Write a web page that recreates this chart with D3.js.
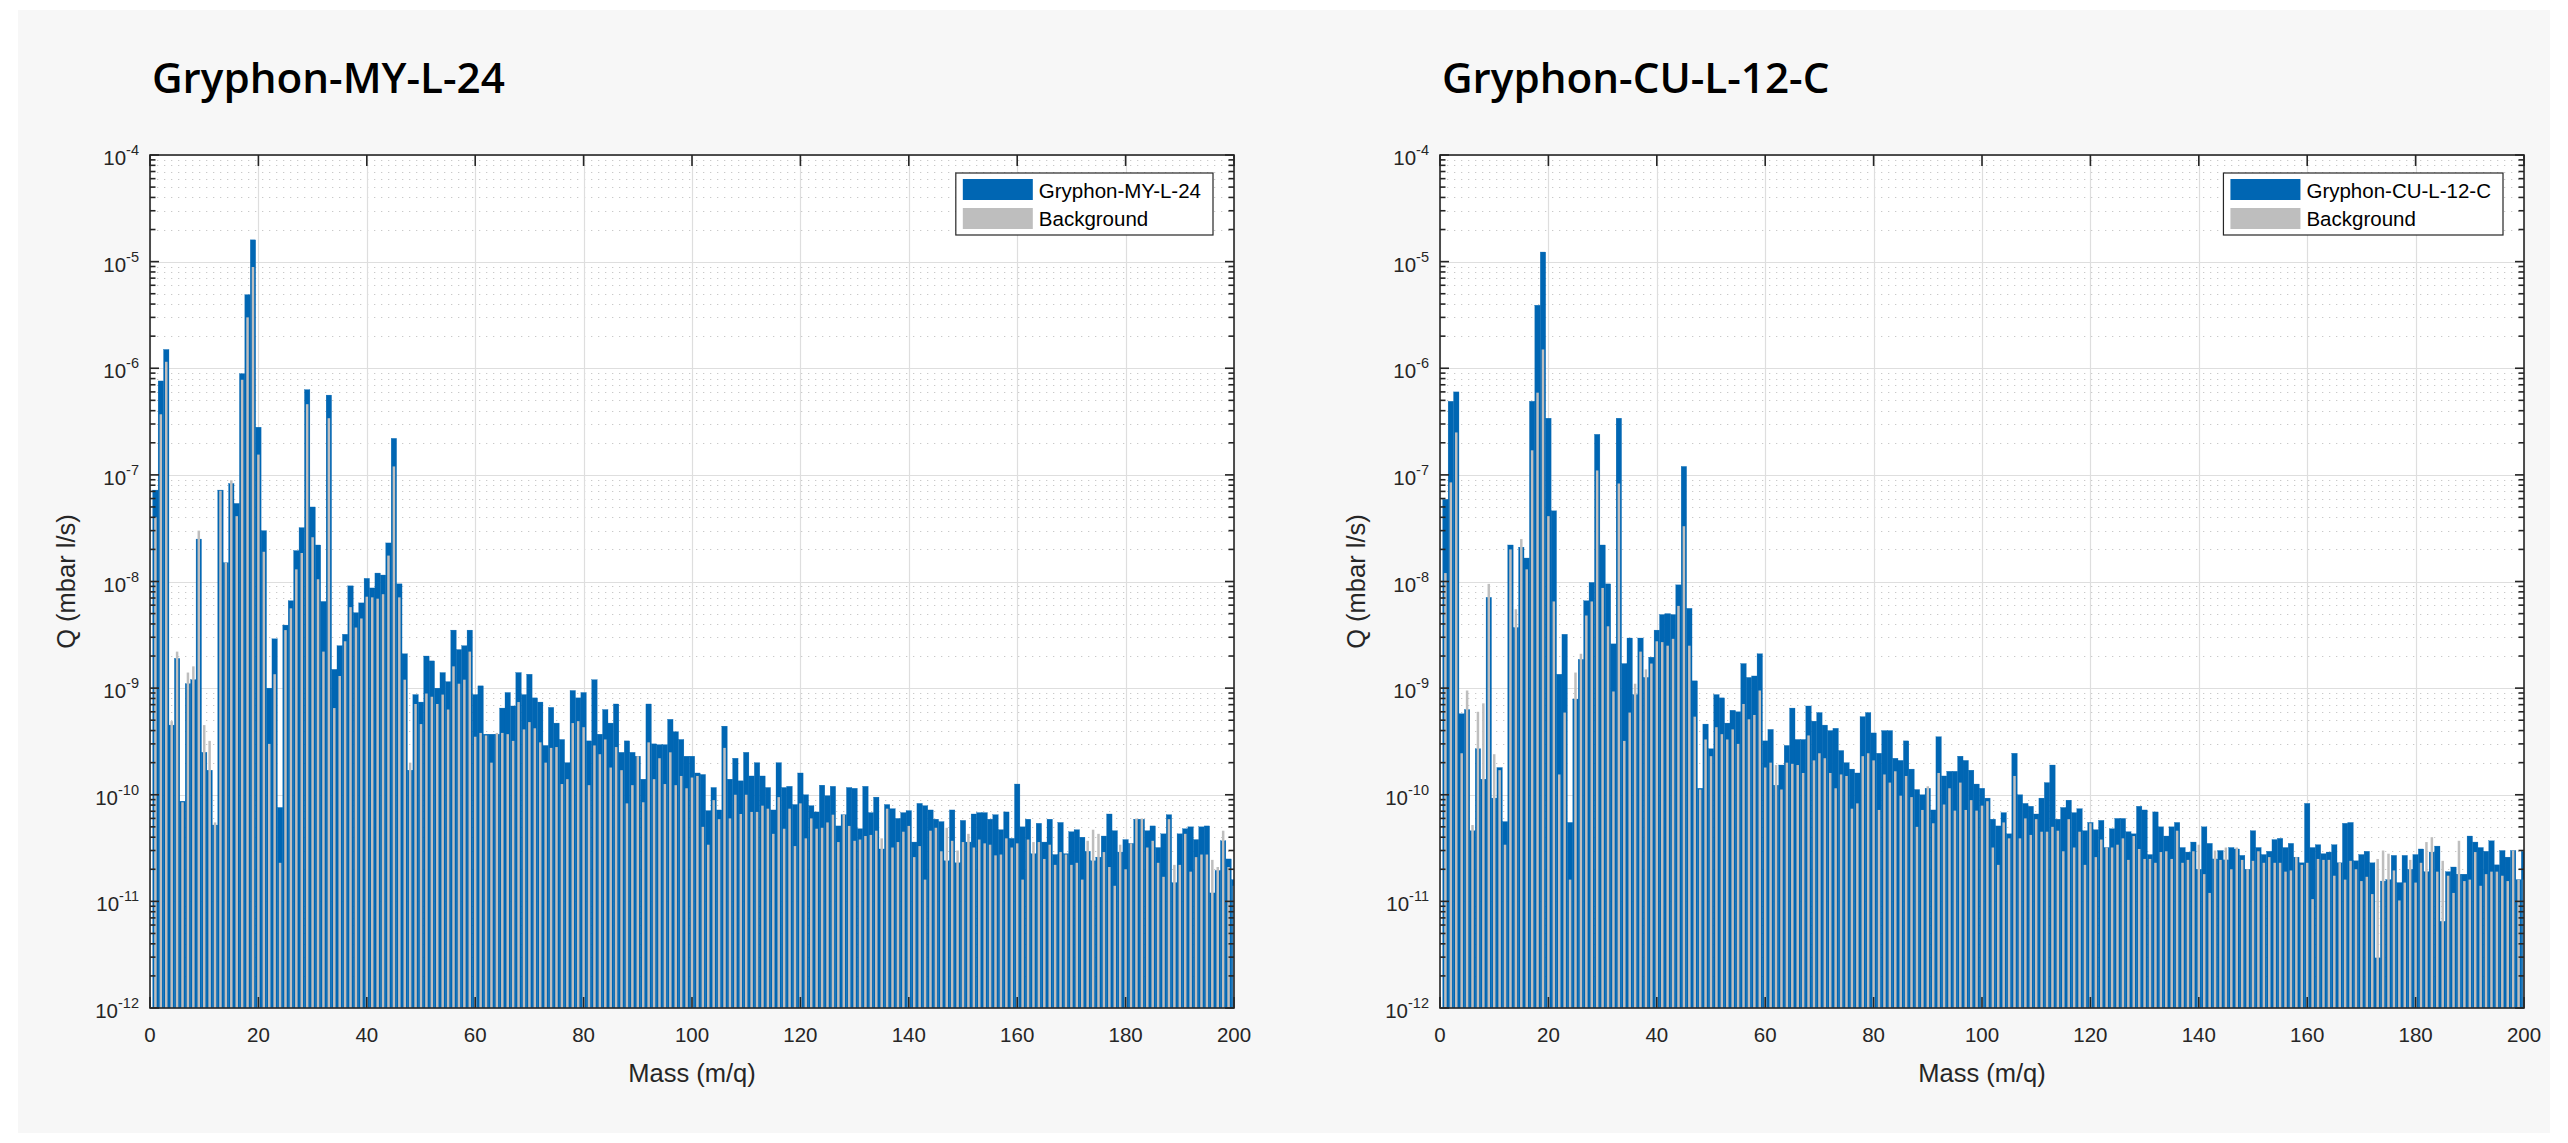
<!DOCTYPE html>
<html>
<head>
<meta charset="utf-8">
<script src="https://cdn.jsdelivr.net/npm/d3@7"></script>
<style>
  html, body { margin: 0; padding: 0; background: #ffffff; }
  svg { display: block; }
</style>
</head>
<body>
<svg id="chart" width="2568" height="1143"></svg>
<script>
// ---------------- DATA ----------------
const titles = ["Gryphon-MY-L-24", "Gryphon-CU-L-12-C"];
const seriesNames = ["Background"];
const xTickValues = [0, 20, 40, 60, 80, 100, 120, 140, 160, 180, 200];
const yTickExponents = [-12, -11, -10, -9, -8, -7, -6, -5, -4];
const xLabel = "Mass (m/q)";
const yLabel = "Q (mbar l/s)";

// masses 1..200
const masses = d3.range(1, 201);

const leftSample = [
7.2e-8, 7.6e-7, 1.5e-6, 4.5e-10, 1.9e-9, 8.7e-11, 1.1e-9, 1.2e-9, 2.5e-8, 2.5e-10,
1.7e-10, 5.2e-11, 7.2e-8, 1.5e-8, 8.3e-8, 5.4e-8, 8.9e-7, 4.9e-6, 1.6e-5, 2.8e-7,
3.0e-8, 1.0e-9, 2.9e-9, 7.6e-11, 3.9e-9, 6.6e-9, 1.95e-8, 3.2e-8, 6.3e-7, 5.0e-8,
2.2e-8, 6.5e-9, 5.6e-7, 1.5e-9, 2.5e-9, 3.2e-9, 9.1e-9, 5.1e-9, 6.3e-9, 1.07e-8,
8.7e-9, 1.2e-8, 1.15e-8, 2.3e-8, 2.2e-7, 9.5e-9, 2.1e-9, 1.7e-10, 8.7e-10, 7.4e-10,
2.0e-9, 1.8e-9, 1.0e-9, 1.4e-9, 1.15e-9, 3.5e-9, 2.3e-9, 2.5e-9, 3.5e-9, 8.7e-10,
1.05e-9, 3.7e-10, 3.7e-10, 3.7e-10, 6.5e-10, 9.1e-10, 6.8e-10, 1.4e-9, 8.7e-10, 1.35e-9,
8.1e-10, 7.4e-10, 2.9e-10, 6.6e-10, 4.7e-10, 3.3e-10, 2.0e-10, 9.5e-10, 8.1e-10, 9.1e-10,
3.2e-10, 1.2e-9, 3.7e-10, 6.3e-10, 4.7e-10, 7.1e-10, 2.5e-10, 3.2e-10, 2.5e-10, 2.3e-10,
1.4e-10, 7.1e-10, 3.0e-10, 2.95e-10, 2.95e-10, 5.1e-10, 3.9e-10, 3.3e-10, 2.3e-10, 2.3e-10,
1.6e-10, 1.55e-10, 7.1e-11, 1.17e-10, 7.2e-11, 4.4e-10, 1.4e-10, 2.2e-10, 1.35e-10, 2.5e-10,
1.5e-10, 2.0e-10, 1.5e-10, 1.17e-10, 7.2e-11, 2.0e-10, 1.17e-10, 1.2e-10, 8.1e-11, 1.6e-10,
1.0e-10, 7.9e-11, 6.9e-11, 1.23e-10, 9.8e-11, 1.2e-10, 5.1e-11, 6.5e-11, 1.17e-10, 1.15e-10,
4.8e-11, 1.2e-10, 6.8e-11, 9.5e-11, 3.1e-11, 8.1e-11, 7.4e-11, 6.0e-11, 6.8e-11, 7.1e-11,
3.6e-11, 8.3e-11, 7.9e-11, 7.2e-11, 5.9e-11, 5.6e-11, 2.4e-11, 7.2e-11, 2.3e-11, 5.75e-11,
3.6e-11, 6.6e-11, 6.8e-11, 6.8e-11, 5.9e-11, 6.5e-11, 4.7e-11, 6.9e-11, 3.9e-11, 1.26e-10,
5.0e-11, 5.9e-11, 2.8e-11, 5.4e-11, 3.6e-11, 5.9e-11, 2.75e-11, 5.5e-11, 2.8e-11, 4.5e-11,
4.7e-11, 4.0e-11, 2.95e-11, 2.4e-11, 2.6e-11, 4.1e-11, 6.6e-11, 4.6e-11, 2.9e-11, 3.8e-11,
3.5e-11, 5.9e-11, 5.9e-11, 4.6e-11, 5.1e-11, 3.2e-11, 4.3e-11, 6.5e-11, 1.5e-11, 4.3e-11,
4.8e-11, 5.0e-11, 3.8e-11, 5.0e-11, 5.1e-11, 1.2e-11, 1.95e-11, 3.7e-11, 2.5e-11, 1.6e-11
];

const leftBackground = [
4.0e-8, 3.7e-7, 1.15e-6, 4.9e-10, 2.2e-9, 8.5e-11, 1.4e-9, 1.6e-9, 3.0e-8, 4.5e-10,
3.2e-10, 5.5e-11, 7.1e-8, 1.5e-8, 8.9e-8, 4.1e-8, 7.8e-7, 3.0e-6, 8.9e-6, 1.55e-7,
1.9e-8, 3.0e-10, 1.35e-9, 2.3e-11, 3.5e-9, 5.6e-9, 1.3e-8, 1.85e-8, 4.6e-7, 2.6e-8,
1.05e-8, 2.2e-9, 3.4e-7, 6.5e-10, 1.3e-9, 2.75e-9, 5.75e-9, 3.7e-9, 4.5e-9, 7.2e-9,
7.1e-9, 6.9e-9, 7.6e-9, 1.75e-8, 1.2e-7, 7.1e-9, 1.2e-9, 2.0e-10, 7.1e-10, 4.6e-10,
8.9e-10, 8.3e-10, 7.1e-10, 8.7e-10, 6.3e-10, 1.6e-9, 1.1e-9, 1.2e-9, 2.2e-9, 3.5e-10,
3.8e-10, 3.6e-10, 2.0e-10, 3.8e-10, 3.8e-10, 3.7e-10, 3.2e-10, 7.4e-10, 4.1e-10, 4.8e-10,
4.2e-10, 3.1e-10, 2.0e-10, 2.75e-10, 2.8e-10, 1.26e-10, 1.4e-10, 4.7e-10, 4.9e-10, 4.3e-10,
1.23e-10, 2.9e-10, 2.4e-10, 3.3e-10, 1.8e-10, 2.8e-10, 1.7e-10, 8.3e-11, 1.23e-10, 2.3e-10,
8.5e-11, 3.1e-10, 1.4e-10, 2.2e-10, 1.26e-10, 2.5e-10, 1.23e-10, 1.5e-10, 1.15e-10, 1.45e-10,
1.5e-10, 5.0e-11, 3.4e-11, 8.9e-11, 5.9e-11, 2.75e-10, 6.0e-11, 1.0e-10, 6.6e-11, 1.0e-10,
6.9e-11, 6.9e-11, 7.9e-11, 7.4e-11, 4.3e-11, 9.5e-11, 4.8e-11, 7.4e-11, 3.3e-11, 8.3e-11,
3.9e-11, 6.0e-11, 4.8e-11, 4.9e-11, 5.5e-11, 6.5e-11, 3.6e-11, 6.5e-11, 5.1e-11, 3.7e-11,
3.8e-11, 4.1e-11, 4.2e-11, 4.6e-11, 3.9e-11, 7.4e-11, 3.2e-11, 3.6e-11, 4.5e-11, 5.1e-11,
2.6e-11, 3.3e-11, 1.6e-11, 4.6e-11, 4.9e-11, 2.95e-11, 4.9e-11, 3.7e-11, 3.0e-11, 3.6e-11,
4.3e-11, 3.2e-11, 3.8e-11, 3.5e-11, 3.4e-11, 2.7e-11, 2.75e-11, 3.9e-11, 3.2e-11, 3.5e-11,
1.6e-11, 3.8e-11, 3.6e-11, 3.6e-11, 2.5e-11, 3.4e-11, 2.2e-11, 2.9e-11, 2.75e-11, 2.2e-11,
2.3e-11, 1.6e-11, 3.7e-11, 4.7e-11, 4.3e-11, 2.9e-11, 2.1e-11, 1.4e-11, 3.4e-11, 2.0e-11,
3.5e-11, 6.0e-11, 6.0e-11, 3.2e-11, 3.7e-11, 2.3e-11, 1.7e-11, 5.9e-11, 2.2e-11, 2.2e-11,
4.3e-11, 1.9e-11, 2.6e-11, 2.75e-11, 2.75e-11, 2.45e-11, 2.1e-11, 4.6e-11, 2.1e-11, 1.4e-11
];

const rightSample = [
5.9e-8, 4.9e-7, 6.0e-7, 5.75e-10, 6.3e-10, 4.6e-11, 2.7e-10, 1.4e-10, 7.1e-9, 9.3e-11,
1.8e-10, 5.6e-11, 2.2e-8, 3.7e-9, 2.1e-8, 1.66e-8, 4.9e-7, 3.9e-6, 1.23e-5, 3.4e-7,
4.6e-8, 1.35e-9, 3.2e-9, 5.5e-11, 7.9e-10, 1.86e-9, 6.6e-9, 9.8e-9, 2.4e-7, 2.2e-8,
9.5e-9, 2.6e-9, 3.4e-7, 1.7e-9, 2.95e-9, 8.7e-10, 2.95e-9, 1.26e-9, 1.95e-9, 3.5e-9,
4.9e-9, 5.0e-9, 4.9e-9, 9.3e-9, 1.2e-7, 5.6e-9, 1.17e-9, 1.15e-10, 4.6e-10, 2.7e-10,
8.7e-10, 8.1e-10, 4.7e-10, 6.2e-10, 6.0e-10, 1.7e-9, 1.26e-9, 1.3e-9, 2.1e-9, 3.2e-10,
4.1e-10, 1.23e-10, 1.9e-10, 2.9e-10, 6.5e-10, 3.3e-10, 3.3e-10, 6.8e-10, 4.9e-10, 5.9e-10,
4.5e-10, 4.0e-10, 4.2e-10, 2.6e-10, 2.0e-10, 1.74e-10, 1.6e-10, 5.4e-10, 5.9e-10, 3.8e-10,
2.45e-10, 4.0e-10, 4.0e-10, 2.2e-10, 2.1e-10, 3.2e-10, 1.74e-10, 1.12e-10, 1.0e-10, 1.15e-10,
7.2e-11, 3.5e-10, 1.5e-10, 1.66e-10, 1.66e-10, 2.3e-10, 2.1e-10, 1.7e-10, 1.26e-10, 1.15e-10,
9.3e-11, 5.9e-11, 5.1e-11, 6.8e-11, 4.3e-11, 2.45e-10, 1.0e-10, 8.3e-11, 7.8e-11, 6.6e-11,
9.3e-11, 1.3e-10, 1.9e-10, 5.9e-11, 7.6e-11, 8.9e-11, 6.8e-11, 7.4e-11, 4.6e-11, 5.5e-11,
4.7e-11, 5.75e-11, 3.2e-11, 4.8e-11, 6.0e-11, 6.0e-11, 4.5e-11, 4.3e-11, 7.8e-11, 7.2e-11,
2.75e-11, 6.9e-11, 5.0e-11, 4.1e-11, 5.0e-11, 5.5e-11, 3.2e-11, 2.9e-11, 3.6e-11, 2.0e-11,
5.0e-11, 3.5e-11, 2.5e-11, 3.0e-11, 2.45e-11, 3.2e-11, 3.1e-11, 2.7e-11, 2.0e-11, 4.6e-11,
3.2e-11, 2.75e-11, 2.95e-11, 3.8e-11, 3.9e-11, 3.2e-11, 3.5e-11, 2.6e-11, 2.3e-11, 8.3e-11,
3.2e-11, 3.4e-11, 2.8e-11, 2.9e-11, 3.4e-11, 2.3e-11, 5.4e-11, 5.5e-11, 2.4e-11, 2.75e-11,
2.95e-11, 2.3e-11, 2.95e-12, 1.55e-11, 1.6e-11, 2.7e-11, 1.5e-11, 2.7e-11, 2.0e-11, 2.75e-11,
3.1e-11, 1.9e-11, 2.9e-11, 3.3e-11, 6.5e-12, 1.9e-11, 2.1e-11, 1.8e-11, 1.8e-11, 4.1e-11,
3.6e-11, 3.2e-11, 2.95e-11, 3.7e-11, 2.2e-11, 3.0e-11, 2.6e-11, 3.0e-11, 1.6e-11, 2.95e-11
];

const rightBackground = [
1.2e-8, 8.5e-8, 2.5e-7, 2.45e-10, 9.5e-10, 5.2e-11, 6.0e-10, 7.2e-10, 9.5e-9, 2.4e-10,
1.7e-10, 3.4e-11, 2.0e-8, 5.5e-9, 2.5e-8, 1.3e-8, 1.7e-7, 5.9e-7, 1.5e-6, 4.1e-8,
6.5e-9, 1.55e-10, 5.9e-10, 1.6e-11, 1.4e-9, 2.1e-9, 4.8e-9, 6.5e-9, 1.1e-7, 8.7e-9,
3.8e-9, 9.3e-10, 8.3e-8, 3.2e-10, 5.9e-10, 1.1e-9, 2.2e-9, 1.5e-9, 1.7e-9, 2.75e-9,
2.7e-9, 2.5e-9, 2.9e-9, 5.9e-9, 3.3e-8, 2.5e-9, 5.4e-10, 1.12e-10, 3.3e-10, 2.3e-10,
4.3e-10, 3.7e-10, 3.3e-10, 4.1e-10, 3.0e-10, 7.1e-10, 5.1e-10, 5.6e-10, 9.5e-10, 1.8e-10,
2.0e-10, 1.9e-10, 1.12e-10, 2.0e-10, 1.95e-10, 1.9e-10, 1.6e-10, 3.6e-10, 2.1e-10, 2.45e-10,
2.2e-10, 1.6e-10, 1.15e-10, 1.55e-10, 1.5e-10, 7.4e-11, 8.3e-11, 2.3e-10, 2.45e-10, 2.1e-10,
7.2e-11, 1.55e-10, 1.3e-10, 1.66e-10, 9.8e-11, 1.5e-10, 9.5e-11, 5.0e-11, 7.2e-11, 1.2e-10,
5.4e-11, 1.6e-10, 8.1e-11, 1.15e-10, 7.1e-11, 1.3e-10, 7.2e-11, 8.9e-11, 7.1e-11, 7.9e-11,
8.7e-11, 3.2e-11, 2.2e-11, 5.5e-11, 3.9e-11, 1.5e-10, 3.9e-11, 6.0e-11, 4.2e-11, 5.9e-11,
4.5e-11, 4.5e-11, 5.0e-11, 4.6e-11, 2.95e-11, 5.9e-11, 3.2e-11, 4.5e-11, 2.2e-11, 5.4e-11,
2.6e-11, 3.8e-11, 3.2e-11, 3.2e-11, 3.4e-11, 3.9e-11, 2.45e-11, 4.1e-11, 3.1e-11, 2.5e-11,
2.5e-11, 2.3e-11, 2.9e-11, 2.95e-11, 2.5e-11, 4.6e-11, 2.3e-11, 2.45e-11, 2.95e-11, 3.4e-11,
1.8e-11, 1.2e-11, 3.0e-11, 2.45e-11, 3.2e-11, 2.0e-11, 3.2e-11, 2.45e-11, 2.0e-11, 2.4e-11,
2.95e-11, 2.3e-11, 2.6e-11, 2.3e-11, 2.3e-11, 1.9e-11, 1.95e-11, 2.6e-11, 2.2e-11, 2.3e-11,
1.05e-11, 2.5e-11, 2.45e-11, 2.45e-11, 1.74e-11, 2.3e-11, 1.6e-11, 2.4e-11, 2.0e-11, 1.55e-11,
1.7e-11, 1.17e-11, 2.5e-11, 3.0e-11, 2.8e-11, 1.95e-11, 1.02e-11, 1.5e-11, 2.45e-11, 1.5e-11,
2.3e-11, 3.6e-11, 4.0e-11, 1.9e-11, 2.4e-11, 1.74e-11, 1.2e-11, 3.7e-11, 1.55e-11, 1.6e-11,
2.9e-11, 1.4e-11, 1.8e-11, 1.9e-11, 1.9e-11, 1.74e-11, 1.55e-11, 3.0e-11, 1.6e-11, 1.6e-11
];

// ---------------- LAYOUT / STYLE ----------------
const BLUE = "#0066b3";
const GREY = "#bebebe";
const AXIS = "#262626";
const TICK_FONT = "'Liberation Sans', Arial, Helvetica, sans-serif";
const TITLE_FONT = "'Open Sans', 'Noto Sans', sans-serif";
const PLOT_TOP = 155, PLOT_BOTTOM = 1008, PLOT_W = 1084;

const svg = d3.select("#chart");
svg.append("rect").attr("x", 18).attr("y", 10).attr("width", 2532).attr("height", 1123).attr("fill", "#f7f7f7");

const panels = [
  { title: titles[0], x0: 150, sample: leftSample, bg: leftBackground },
  { title: titles[1], x0: 1440, sample: rightSample, bg: rightBackground }
];

// title font-size fitted to the reference width of the left title
const probe = svg.append("text").attr("font-family", TITLE_FONT)
  .attr("font-weight", 600).attr("font-size", 44).text(titles[0]);
const probeW = probe.node().getComputedTextLength();
probe.remove();
const titleSize = 44 * 353 / probeW;

panels.forEach((p, pi) => {
  const x = d3.scaleLinear().domain([0, 200]).range([p.x0, p.x0 + PLOT_W]);
  const y = d3.scaleLog().domain([1e-12, 1e-4]).range([PLOT_BOTTOM, PLOT_TOP]);
  const g = svg.append("g");

  // title
  g.append("text").attr("x", p.x0 + 2).attr("y", 93)
    .attr("font-family", TITLE_FONT).attr("font-weight", 600)
    .attr("font-size", titleSize).attr("fill", "#000").text(p.title);

  // plot background
  g.append("rect").attr("x", x(0)).attr("y", PLOT_TOP).attr("width", PLOT_W)
    .attr("height", PLOT_BOTTOM - PLOT_TOP).attr("fill", "#ffffff");

  // minor y grid (dotted)
  const minorVals = [];
  for (let e = -12; e < -4; e++) for (let k = 2; k <= 9; k++) minorVals.push(k * Math.pow(10, e));
  g.append("g").selectAll("line").data(minorVals).join("line")
    .attr("x1", x(0)).attr("x2", x(200))
    .attr("y1", d => Math.round(y(d)) + 0.5).attr("y2", d => Math.round(y(d)) + 0.5)
    .attr("stroke", "#c9c9c9").attr("stroke-width", 1).attr("stroke-dasharray", "1.3,5.7");

  // major grid
  const majorY = yTickExponents.map(e => Math.pow(10, e));
  g.append("g").selectAll("line").data(majorY).join("line")
    .attr("x1", x(0)).attr("x2", x(200))
    .attr("y1", d => Math.round(y(d)) + 0.5).attr("y2", d => Math.round(y(d)) + 0.5)
    .attr("stroke", "#dedede").attr("stroke-width", 1.2);
  g.append("g").selectAll("line").data(xTickValues).join("line")
    .attr("x1", d => Math.round(x(d)) + 0.5).attr("x2", d => Math.round(x(d)) + 0.5)
    .attr("y1", PLOT_TOP).attr("y2", PLOT_BOTTOM)
    .attr("stroke", "#dedede").attr("stroke-width", 1.2);

  // bars (clipped to the axes)
  const clipId = "clip" + pi;
  svg.append("clipPath").attr("id", clipId).append("rect")
    .attr("x", x(0)).attr("y", PLOT_TOP).attr("width", PLOT_W).attr("height", PLOT_BOTTOM - PLOT_TOP);
  const bars = g.append("g").attr("clip-path", `url(#${clipId})`);
  bars.append("g").selectAll("rect").data(masses).join("rect")
    .attr("x", (m) => x(m - 0.5)).attr("width", x(1) - x(0))
    .attr("y", (m, i) => y(p.sample[i])).attr("height", (m, i) => PLOT_BOTTOM - y(p.sample[i]))
    .attr("fill", BLUE).attr("stroke", BLUE).attr("stroke-width", 0.3);
  bars.append("g").selectAll("rect").data(masses).join("rect")
    .attr("x", (m) => x(m - 0.23)).attr("width", x(0.46) - x(0))
    .attr("y", (m, i) => y(p.bg[i])).attr("height", (m, i) => PLOT_BOTTOM - y(p.bg[i]))
    .attr("fill", GREY);

  // axes box
  g.append("rect").attr("x", x(0)).attr("y", PLOT_TOP).attr("width", PLOT_W)
    .attr("height", PLOT_BOTTOM - PLOT_TOP).attr("fill", "none")
    .attr("stroke", AXIS).attr("stroke-width", 1.6);

  // x ticks (inward, bottom and top)
  const xt = g.append("g").attr("stroke", AXIS).attr("stroke-width", 1.6);
  xTickValues.forEach(v => {
    xt.append("line").attr("x1", x(v)).attr("x2", x(v)).attr("y1", PLOT_BOTTOM).attr("y2", PLOT_BOTTOM - 11);
    xt.append("line").attr("x1", x(v)).attr("x2", x(v)).attr("y1", PLOT_TOP).attr("y2", PLOT_TOP + 11);
  });
  // y ticks (inward, left and right)
  const yt = g.append("g").attr("stroke", AXIS).attr("stroke-width", 1.6);
  majorY.forEach(v => {
    yt.append("line").attr("x1", x(0)).attr("x2", x(0) + 9).attr("y1", y(v)).attr("y2", y(v));
    yt.append("line").attr("x1", x(200)).attr("x2", x(200) - 9).attr("y1", y(v)).attr("y2", y(v));
  });
  minorVals.forEach(v => {
    yt.append("line").attr("x1", x(0)).attr("x2", x(0) + 5.5).attr("y1", y(v)).attr("y2", y(v));
    yt.append("line").attr("x1", x(200)).attr("x2", x(200) - 5.5).attr("y1", y(v)).attr("y2", y(v));
  });

  // x tick labels
  g.append("g").selectAll("text").data(xTickValues).join("text")
    .attr("x", d => x(d)).attr("y", 1042).attr("text-anchor", "middle")
    .attr("font-family", TICK_FONT).attr("font-size", 20.5).attr("fill", AXIS)
    .text(d => d);

  // y tick labels 10^e
  const yl = g.append("g").selectAll("text").data(yTickExponents).join("text")
    .attr("x", x(0) - 11).attr("y", e => y(Math.pow(10, e)) + 10).attr("text-anchor", "end")
    .attr("font-family", TICK_FONT).attr("font-size", 20.5).attr("fill", AXIS);
  yl.append("tspan").text("10");
  yl.append("tspan").attr("dy", -10).attr("font-size", 14.5).text(e => e);

  // axis labels
  g.append("text").attr("x", x(100)).attr("y", 1082).attr("text-anchor", "middle")
    .attr("font-family", TICK_FONT).attr("font-size", 25.5).attr("fill", AXIS).text(xLabel);
  g.append("text").attr("transform", `translate(${x(0) - 75},${(PLOT_TOP + PLOT_BOTTOM) / 2}) rotate(-90)`)
    .attr("text-anchor", "middle")
    .attr("font-family", TICK_FONT).attr("font-size", 25.5).attr("fill", AXIS).text(yLabel);

  // legend
  const lg = g.append("g");
  const names = [p.title, seriesNames[0]];
  const t1 = lg.append("text").attr("font-family", TICK_FONT).attr("font-size", 20.5).attr("fill", "#000").text(names[0]);
  const tw = Math.max(t1.node().getComputedTextLength(), 100);
  const lw = 83 + tw + 12;
  const lx = x(200) - 21 - lw;
  const ly = 173;
  lg.insert("rect", "text").attr("x", lx).attr("y", ly).attr("width", lw).attr("height", 62)
    .attr("fill", "#ffffff").attr("stroke", AXIS).attr("stroke-width", 1.2);
  lg.append("rect").attr("x", lx + 7).attr("y", ly + 6).attr("width", 70).attr("height", 21).attr("fill", BLUE);
  lg.append("rect").attr("x", lx + 7).attr("y", ly + 35).attr("width", 70).attr("height", 21).attr("fill", GREY);
  t1.attr("x", lx + 83).attr("y", ly + 25);
  lg.append("text").attr("x", lx + 83).attr("y", ly + 53)
    .attr("font-family", TICK_FONT).attr("font-size", 20.5).attr("fill", "#000").text(names[1]);
});
</script>
</body>
</html>
